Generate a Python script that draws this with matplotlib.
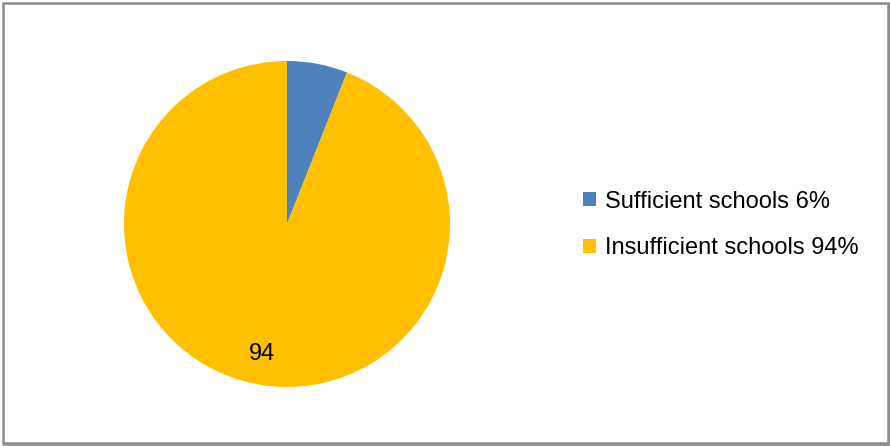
import matplotlib.pyplot as plt
from matplotlib.patches import Patch, Rectangle

labels = ["Sufficient schools 6%", "Insufficient schools 94%"]
values = [6, 94]
colors = ["#4F81BD", "#FFC000"]

plt.rcParams['font.family'] = ['Liberation Sans', 'DejaVu Sans']

fig = plt.figure(figsize=(8.9, 4.46), dpi=100)

# chart border with a slight shadow on right / bottom
fig.patches.append(Rectangle((4 / 890, 2 / 446), 885 / 890, 440 / 446,
                             transform=fig.transFigure, fill=False,
                             edgecolor="#9a9a9a", linewidth=2.2, zorder=-2))
fig.patches.append(Rectangle((3 / 890, 3 / 446), 885 / 890, 440 / 446,
                             transform=fig.transFigure, facecolor="white",
                             edgecolor="#8c8c8c", linewidth=1.8, zorder=-1))

ax = fig.add_axes([(287 - 163) / 890, (222 - 163) / 446, 326 / 890, 326 / 446])

wedges, texts = ax.pie(
    values,
    colors=colors,
    startangle=90,
    counterclock=False,
    labels=["", "94"],
    labeldistance=0.81,
    textprops={"fontsize": 17, "color": "black"},
)
for t in texts:
    t.set_ha("center")
    t.set_va("center")
ax.set_xlim(-1, 1)
ax.set_ylim(-1, 1)
ax.set_aspect("equal")

handles = [Patch(facecolor=c, edgecolor="none") for c in colors]
fig.legend(
    handles,
    labels,
    loc="center left",
    bbox_to_anchor=(583 / 890, 1 - 225 / 446),
    frameon=False,
    fontsize=17,
    borderaxespad=0,
    borderpad=0,
    handlelength=0.55,
    handleheight=0.55,
    handletextpad=0.38,
    labelspacing=1.05,
)

fig.savefig("out.png", dpi=100)
